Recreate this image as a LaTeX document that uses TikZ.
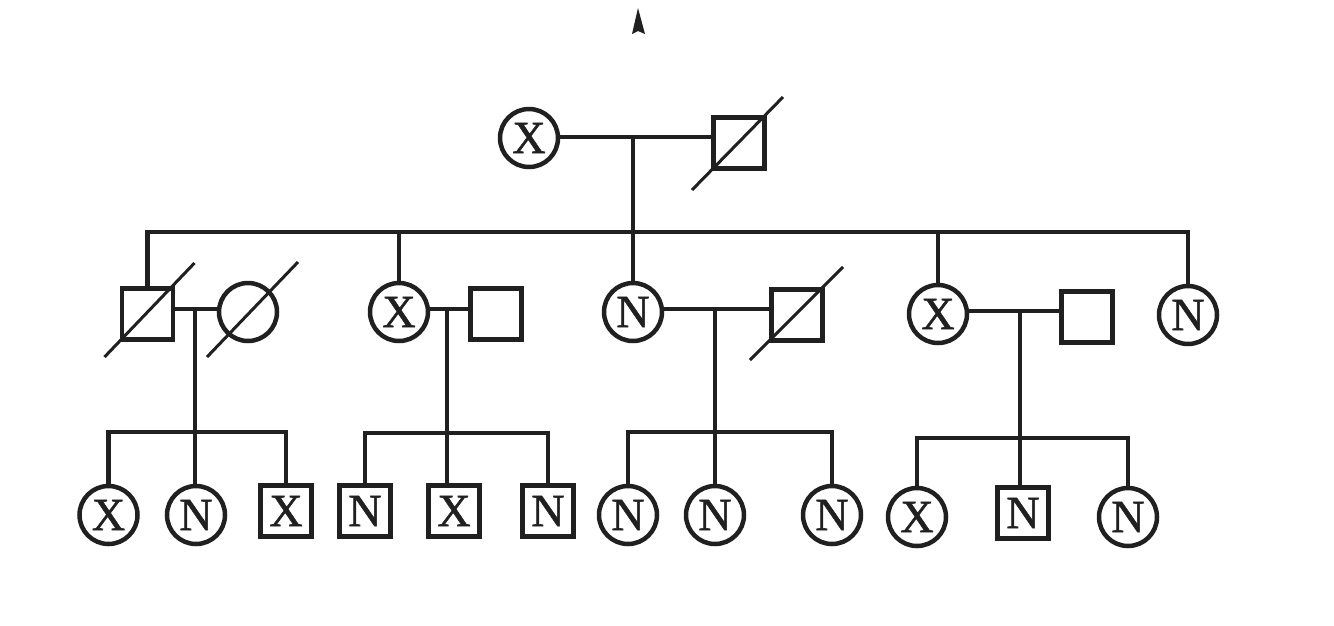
\documentclass[tikz,border=0pt]{standalone}
\usepackage{fontspec}
\setmainfont{Liberation Serif}
\newfontfamily\pedff{Liberation Serif}[FakeBold=1.2]
\usetikzlibrary{calc}
\definecolor{ink}{RGB}{32,32,32}
\newcommand\pedfont{\pedff\fontsize{46}{46}\selectfont}
\begin{document}
\begin{tikzpicture}[x=1pt,y=-1pt,
  fem/.style={circle,draw=ink,text=ink,line width=4.5pt,minimum size=58pt,inner sep=0pt,font=\pedfont},
  mal/.style={rectangle,draw=ink,text=ink,line width=4.5pt,minimum size=51pt,inner sep=0pt,font=\pedfont},
  link/.style={draw=ink,line width=4.5pt},
  slash/.style={draw=ink,line width=3pt}]
\useasboundingbox (0,0) rectangle (1334,625);
\fill[white] (0,0) rectangle (1334,625);
% arrowhead
\fill[ink] (638,8) -- (645,34) -- (638,31) -- (632,34) -- cycle;
% generation I
\node[fem] (I1) at (529,138) {X};
\node[mal] (I2) at (739,143) {};
\coordinate (mI) at (633,137);
\coordinate (sib) at (633,232);
% generation II
\node[mal] (A1) at (147.5,314) {};
\node[fem] (A2) at (248,312) {};
\node[fem] (B1) at (399,312) {X};
\node[mal] (B2) at (496,314) {};
\node[fem] (C1) at (633,312) {N};
\node[mal] (C2) at (797,315) {};
\node[fem] (D1) at (938,314) {X};
\node[mal] (D2) at (1087,317) {};
\node[fem] (E) at (1188,315) {N};
\coordinate (mA) at (195,309);
\coordinate (mB) at (447,309);
\coordinate (mC) at (715,309);
\coordinate (mD) at (1020,311);
\coordinate (sA) at (195,432);
\coordinate (sB) at (447,433);
\coordinate (sC) at (715,432);
\coordinate (sD) at (1020,438);
% generation III
\node[fem] (a1) at (108.5,515) {X};
\node[fem] (a2) at (196,515) {N};
\node[mal] (a3) at (286,511) {X};
\node[mal] (b1) at (365,511) {N};
\node[mal] (b2) at (454,511) {X};
\node[mal] (b3) at (548,511) {N};
\node[fem] (c1) at (628,515) {N};
\node[fem] (c2) at (715,515) {N};
\node[fem] (c3) at (832,515) {N};
\node[fem] (d1) at (917,517) {X};
\node[mal] (d2) at (1023,513) {N};
\node[fem] (d3) at (1128,517) {N};
% deceased slashes
\draw[slash] ($(I2)+(-47,47)$) -- ($(I2)+(44,-46)$);
\draw[slash] ($(A1)+(-43,43)$) -- ($(A1)+(47,-51)$);
\draw[slash] ($(A2)+(-41,45)$) -- ($(A2)+(50,-50)$);
\draw[slash] ($(C2)+(-47,45)$) -- ($(C2)+(46,-48)$);
% marriage lines
\draw[link] (I1.east |- mI) -- (I2.west |- mI);
\draw[link] (A1.east |- mA) -- (A2.west |- mA);
\draw[link] (B1.east |- mB) -- (B2.west |- mB);
\draw[link] (C1.east |- mC) -- (C2.west |- mC);
\draw[link] (D1.east |- mD) -- (D2.west |- mD);
% generation I -> II
\draw[link] (mI) -- (sib);
\draw[link] (A1.north) -- (A1.north |- sib) -- (E.north |- sib) -- (E.north);
\draw[link] (B1.north |- sib) -- (B1.north);
\draw[link] (C1.north |- sib) -- (C1.north);
\draw[link] (D1.north |- sib) -- (D1.north);
% generation II -> III
\draw[link] (mA) -- (mA |- a2.north);
\draw[link] (a1.north) -- (a1.north |- sA) -- (a3.north |- sA) -- (a3.north);
\draw[link] (mB) -- (mB |- b2.north);
\draw[link] (b1.north) -- (b1.north |- sB) -- (b3.north |- sB) -- (b3.north);
\draw[link] (mC) -- (c2.north);
\draw[link] (c1.north) -- (c1.north |- sC) -- (c3.north |- sC) -- (c3.north);
\draw[link] (mD) -- (mD |- d2.north);
\draw[link] (d1.north) -- (d1.north |- sD) -- (d3.north |- sD) -- (d3.north);
\end{tikzpicture}
\end{document}
